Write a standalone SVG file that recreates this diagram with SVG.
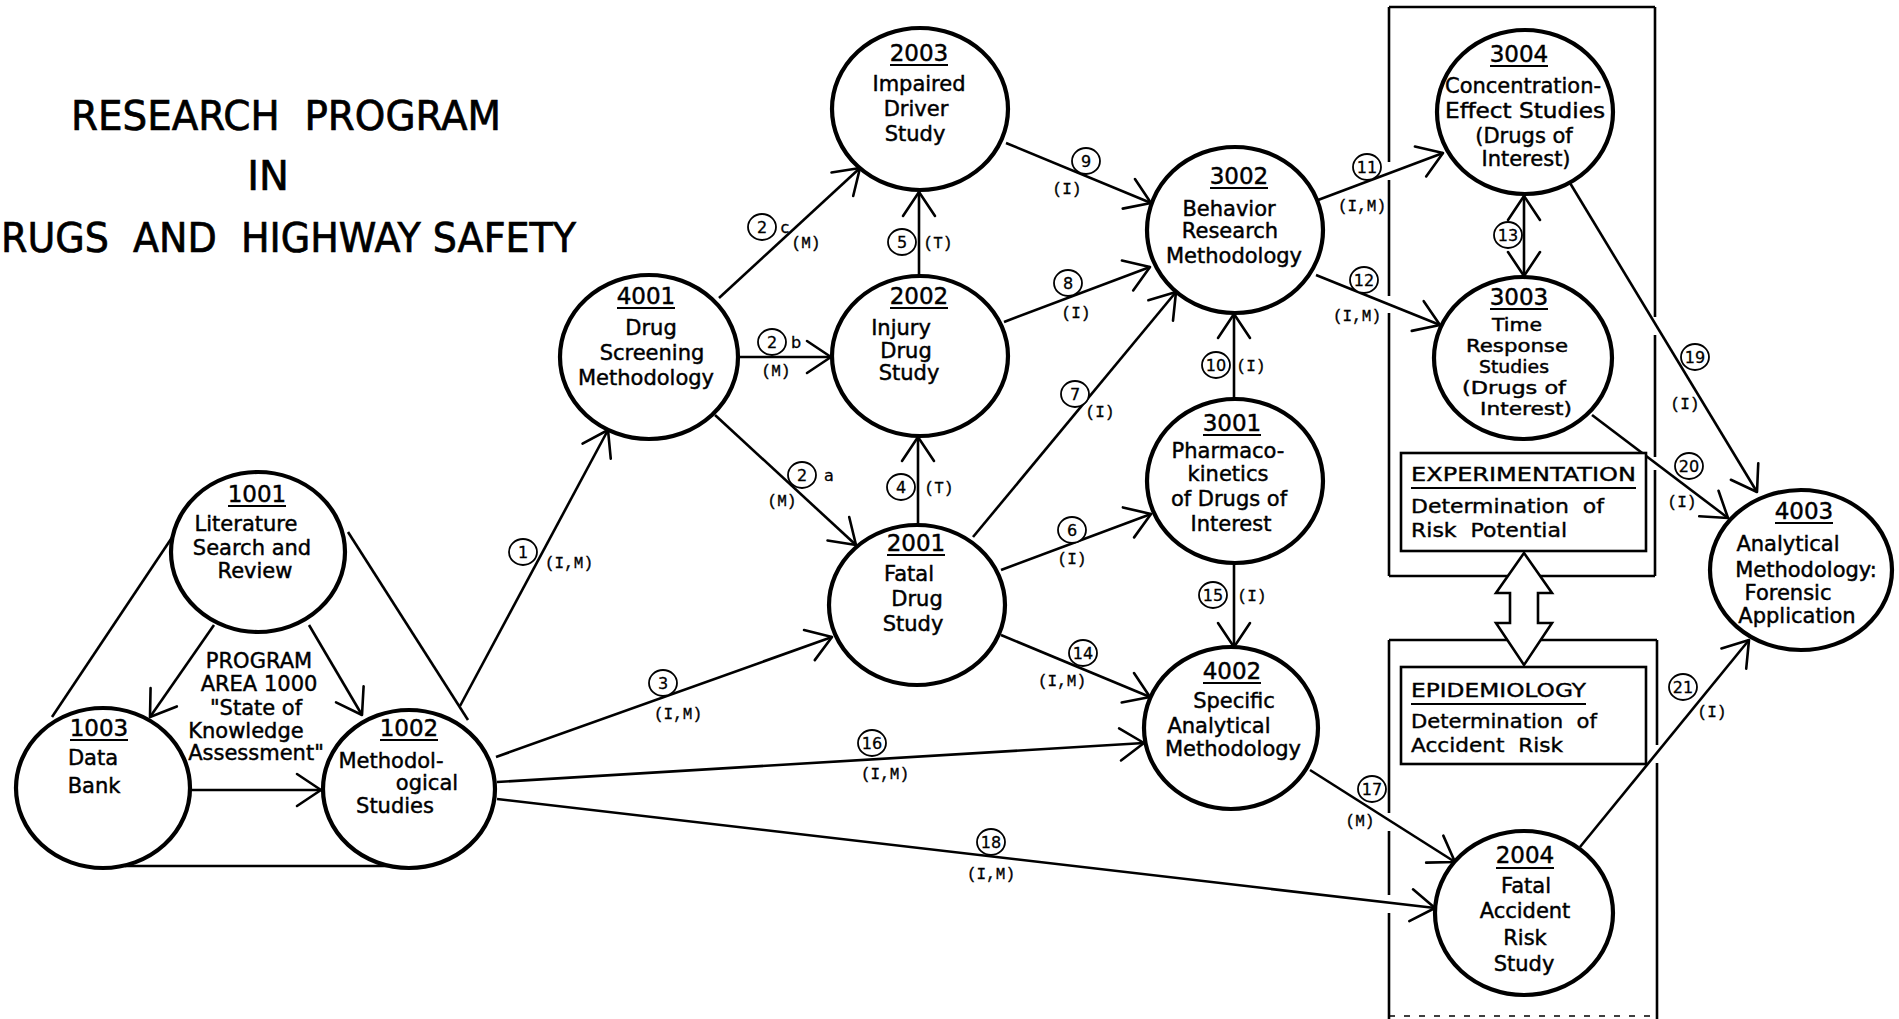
<svg xmlns="http://www.w3.org/2000/svg" width="1899" height="1019" viewBox="0 0 1899 1019">
<defs>
<marker id="ah" viewBox="-30 -22 34 44" refX="0" refY="0" markerWidth="34" markerHeight="44" markerUnits="userSpaceOnUse" orient="auto-start-reverse" overflow="visible">
<path d="M-24,-16 L0,0 L-24,16" fill="none" stroke="#000" stroke-width="2.6" stroke-linejoin="round" stroke-linecap="round"/>
</marker>
</defs>
<style>
.bg{fill:#fff}
.node ellipse{fill:#fff;stroke:#000;stroke-width:4.2}
.t{font-family:"DejaVu Sans","Liberation Sans",sans-serif;font-size:21px;text-anchor:middle;fill:#000;stroke:#000;stroke-width:0.45}
.num{font-size:23px}
.sm{font-size:18px}
.ul{stroke:#000;stroke-width:2.2}
.title{font-family:"DejaVu Sans","Liberation Sans",sans-serif;font-size:40px;fill:#000;stroke:#000;stroke-width:0.7;white-space:pre}
.conn line,.conn path{stroke:#000;stroke-width:2.6;fill:none}
.arr{marker-end:url(#ah)}
.arr2{marker-start:url(#ah);marker-end:url(#ah)}
.lab ellipse{fill:#fff;stroke:#000;stroke-width:1.8}
.ln{font-family:"DejaVu Sans","Liberation Sans",sans-serif;font-size:16px;text-anchor:middle;fill:#000;stroke:#000;stroke-width:0.3}
.lm{font-family:"Liberation Mono","DejaVu Sans Mono",monospace;font-size:16px;text-anchor:middle;fill:#000;stroke:#000;stroke-width:0.35}
.frame{stroke:#000;stroke-width:2.6;fill:none}
.box{fill:#fff;stroke:#000;stroke-width:2.6}
.bt{font-family:"DejaVu Sans","Liberation Sans",sans-serif;font-size:20px;fill:#000;stroke:#000;stroke-width:0.4;white-space:pre}
</style>
<rect class="bg" x="0" y="0" width="1899" height="1019"/>

<g id="title">
<text class="title" x="286" y="130" text-anchor="middle" textLength="430" lengthAdjust="spacingAndGlyphs">RESEARCH  PROGRAM</text>
<text class="title" x="268" y="190" text-anchor="middle">IN</text>
<text class="title" x="1" y="252" textLength="575" lengthAdjust="spacingAndGlyphs">RUGS  AND  HIGHWAY SAFETY</text>
</g>

<g id="frames">
<path class="frame" d="M1389,7 H1655 M1655,7 V317 M1655,335 V457 M1655,470 V576 M1389,576 H1655 M1389,7 V162 M1389,180 V296 M1389,313 V576"/>
<path class="frame" d="M1389,640 H1657 M1389,640 V813 M1389,831 V895 M1389,913 V1019 M1657,640 V745 M1657,763 V1019"/>
<path d="M1389,1016 H1657" stroke="#000" stroke-width="1.5" stroke-dasharray="6 9" fill="none"/>
</g>

<g id="connectors" class="conn">
<line x1="175" y1="533" x2="52" y2="717"/>
<line x1="348" y1="532" x2="468" y2="720"/>
<line x1="125" y1="866" x2="396" y2="866"/>
<line class="arr" x1="214" y1="625" x2="150" y2="717"/>
<line class="arr" x1="309" y1="625" x2="362" y2="715"/>
<line class="arr" x1="191" y1="790" x2="321" y2="790"/>
<line class="arr" x1="460" y1="706" x2="608" y2="430"/>
<line class="arr" x1="715" y1="415" x2="856" y2="545"/>
<line class="arr" x1="740" y1="357" x2="831" y2="357"/>
<line class="arr" x1="719" y1="298" x2="860" y2="168"/>
<line class="arr" x1="496" y1="757" x2="832" y2="637"/>
<line class="arr" x1="918" y1="525" x2="918" y2="437"/>
<line class="arr" x1="919" y1="276" x2="919" y2="192"/>
<line class="arr" x1="1001" y1="570" x2="1151" y2="514"/>
<line class="arr" x1="973" y1="537" x2="1176" y2="292"/>
<line class="arr" x1="1004" y1="322" x2="1150" y2="267"/>
<line class="arr" x1="1006" y1="143" x2="1151" y2="203"/>
<line class="arr" x1="1234" y1="398" x2="1234" y2="314"/>
<line class="arr" x1="1318" y1="200" x2="1443" y2="153"/>
<line class="arr" x1="1316" y1="275" x2="1440" y2="325"/>
<line class="arr2" x1="1524" y1="196" x2="1524" y2="276"/>
<line class="arr" x1="1001" y1="635" x2="1150" y2="697"/>
<line class="arr" x1="1234" y1="564" x2="1234" y2="647"/>
<line class="arr" x1="497" y1="782" x2="1144" y2="743"/>
<line class="arr" x1="1310" y1="770" x2="1455" y2="862"/>
<line class="arr" x1="497" y1="799" x2="1435" y2="908"/>
<line class="arr" x1="1570" y1="183" x2="1757" y2="492"/>
<line class="arr" x1="1592" y1="415" x2="1728" y2="518"/>
<line class="arr" x1="1580" y1="847" x2="1749" y2="640"/>
</g>

<g id="labels" class="lab">
<ellipse cx="523" cy="552" rx="14" ry="13"/><text class="ln" x="523" y="558">1</text><text class="lm" x="569" y="568">(I,M)</text>
<ellipse cx="802" cy="475" rx="14" ry="13"/><text class="ln" x="802" y="481">2</text><text class="ln" x="829" y="481">a</text><text class="lm" x="782" y="506">(M)</text>
<ellipse cx="772" cy="342" rx="14" ry="13"/><text class="ln" x="772" y="348">2</text><text class="ln" x="796" y="348">b</text><text class="lm" x="776" y="376">(M)</text>
<ellipse cx="762" cy="227" rx="14" ry="13"/><text class="ln" x="762" y="233">2</text><text class="ln" x="785" y="233">c</text><text class="lm" x="806" y="248">(M)</text>
<ellipse cx="663" cy="683" rx="14" ry="13"/><text class="ln" x="663" y="689">3</text><text class="lm" x="678" y="719">(I,M)</text>
<ellipse cx="901" cy="487" rx="14" ry="13"/><text class="ln" x="901" y="493">4</text><text class="lm" x="939" y="493">(T)</text>
<ellipse cx="902" cy="242" rx="14" ry="13"/><text class="ln" x="902" y="248">5</text><text class="lm" x="938" y="248">(T)</text>
<ellipse cx="1072" cy="530" rx="14" ry="13"/><text class="ln" x="1072" y="536">6</text><text class="lm" x="1072" y="564">(I)</text>
<ellipse cx="1075" cy="394" rx="14" ry="13"/><text class="ln" x="1075" y="400">7</text><text class="lm" x="1100" y="417">(I)</text>
<ellipse cx="1068" cy="283" rx="14" ry="13"/><text class="ln" x="1068" y="289">8</text><text class="lm" x="1076" y="318">(I)</text>
<ellipse cx="1086" cy="161" rx="14" ry="13"/><text class="ln" x="1086" y="167">9</text><text class="lm" x="1067" y="194">(I)</text>
<ellipse cx="1216" cy="365" rx="14" ry="13"/><text class="ln" x="1216" y="371">10</text><text class="lm" x="1251" y="371">(I)</text>
<ellipse cx="1367" cy="167" rx="14" ry="13"/><text class="ln" x="1367" y="173">11</text><text class="lm" x="1362" y="211">(I,M)</text>
<ellipse cx="1364" cy="280" rx="14" ry="13"/><text class="ln" x="1364" y="286">12</text><text class="lm" x="1357" y="321">(I,M)</text>
<ellipse cx="1508" cy="235" rx="14" ry="13"/><text class="ln" x="1508" y="241">13</text>
<ellipse cx="1083" cy="653" rx="14" ry="13"/><text class="ln" x="1083" y="659">14</text><text class="lm" x="1062" y="686">(I,M)</text>
<ellipse cx="1213" cy="595" rx="14" ry="13"/><text class="ln" x="1213" y="601">15</text><text class="lm" x="1252" y="601">(I)</text>
<ellipse cx="872" cy="743" rx="14" ry="13"/><text class="ln" x="872" y="749">16</text><text class="lm" x="885" y="779">(I,M)</text>
<ellipse cx="1372" cy="789" rx="14" ry="13"/><text class="ln" x="1372" y="795">17</text><text class="lm" x="1360" y="826">(M)</text>
<ellipse cx="991" cy="842" rx="14" ry="13"/><text class="ln" x="991" y="848">18</text><text class="lm" x="991" y="879">(I,M)</text>
<ellipse cx="1695" cy="357" rx="14" ry="13"/><text class="ln" x="1695" y="363">19</text><text class="lm" x="1685" y="409">(I)</text>
<ellipse cx="1689" cy="466" rx="14" ry="13"/><text class="ln" x="1689" y="472">20</text><text class="lm" x="1682" y="507">(I)</text>
<ellipse cx="1683" cy="687" rx="14" ry="13"/><text class="ln" x="1683" y="693">21</text><text class="lm" x="1712" y="717">(I)</text>
</g>

<g id="area1000">
<text class="t" x="259" y="668">PROGRAM</text>
<text class="t" x="259" y="691">AREA 1000</text>
<text class="t" x="256" y="715">&quot;State of</text>
<text class="t" x="246" y="738">Knowledge</text>
<text class="t" x="256" y="760">Assessment&quot;</text>
</g>

<g id="n1001" class="node"><ellipse cx="258" cy="552" rx="87" ry="80"/>
<text class="t num" x="257" y="502">1001</text><line class="ul" x1="228" y1="506" x2="286" y2="506"/>
<text class="t" x="246" y="531">Literature</text><text class="t" x="252" y="555">Search and</text><text class="t" x="255" y="578">Review</text></g>

<g id="n1003" class="node"><ellipse cx="103" cy="788" rx="87" ry="80"/>
<text class="t num" x="99" y="736">1003</text><line class="ul" x1="70" y1="740" x2="128" y2="740"/>
<text class="t" x="93" y="765">Data</text><text class="t" x="94" y="793">Bank</text></g>

<g id="n1002" class="node"><ellipse cx="409" cy="789" rx="86" ry="79"/>
<text class="t num" x="409" y="736">1002</text><line class="ul" x1="380" y1="740" x2="438" y2="740"/>
<text class="t" x="391" y="768">Methodol-</text><text class="t" x="427" y="790">ogical</text><text class="t" x="395" y="813">Studies</text></g>

<g id="n4001" class="node"><ellipse cx="649" cy="357" rx="89" ry="82"/>
<text class="t num" x="646" y="304">4001</text><line class="ul" x1="617" y1="308" x2="675" y2="308"/>
<text class="t" x="651" y="335">Drug</text><text class="t" x="652" y="360">Screening</text><text class="t" x="646" y="385">Methodology</text></g>

<g id="n2003" class="node"><ellipse cx="920" cy="109" rx="88" ry="81"/>
<text class="t num" x="919" y="61">2003</text><line class="ul" x1="890" y1="65" x2="948" y2="65"/>
<text class="t" x="919" y="91">Impaired</text><text class="t" x="916" y="116">Driver</text><text class="t" x="915" y="141">Study</text></g>

<g id="n2002" class="node"><ellipse cx="920" cy="356" rx="88" ry="80"/>
<text class="t num" x="919" y="304">2002</text><line class="ul" x1="890" y1="308" x2="948" y2="308"/>
<text class="t" x="901" y="335">Injury</text><text class="t" x="906" y="358">Drug</text><text class="t" x="909" y="380">Study</text></g>

<g id="n2001" class="node"><ellipse cx="917" cy="605" rx="88" ry="80"/>
<text class="t num" x="916" y="551">2001</text><line class="ul" x1="887" y1="555" x2="945" y2="555"/>
<text class="t" x="909" y="581">Fatal</text><text class="t" x="917" y="606">Drug</text><text class="t" x="913" y="631">Study</text></g>

<g id="n3002" class="node"><ellipse cx="1235" cy="230" rx="88" ry="83"/>
<text class="t num" x="1239" y="184">3002</text><line class="ul" x1="1210" y1="188" x2="1268" y2="188"/>
<text class="t" x="1229" y="216">Behavior</text><text class="t" x="1230" y="238">Research</text><text class="t" x="1234" y="263">Methodology</text></g>

<g id="n3004" class="node"><ellipse cx="1525" cy="112" rx="88" ry="82"/>
<text class="t num" x="1519" y="62">3004</text><line class="ul" x1="1490" y1="66" x2="1548" y2="66"/>
<text class="t" x="1523" y="93" textLength="156" lengthAdjust="spacingAndGlyphs">Concentration-</text>
<text class="t" x="1525" y="118" textLength="160" lengthAdjust="spacingAndGlyphs">Effect Studies</text>
<text class="t" x="1524" y="143">(Drugs of</text><text class="t" x="1526" y="166">Interest)</text></g>

<g id="n3003" class="node"><ellipse cx="1523" cy="358" rx="89" ry="81"/>
<text class="t num" x="1519" y="305">3003</text><line class="ul" x1="1490" y1="309" x2="1548" y2="309"/>
<text class="t sm" x="1517" y="331" textLength="50" lengthAdjust="spacingAndGlyphs">Time</text>
<text class="t sm" x="1517" y="352" textLength="102" lengthAdjust="spacingAndGlyphs">Response</text>
<text class="t sm" x="1514" y="373" textLength="70" lengthAdjust="spacingAndGlyphs">Studies</text>
<text class="t sm" x="1514" y="394" textLength="104" lengthAdjust="spacingAndGlyphs">(Drugs of</text>
<text class="t sm" x="1526" y="415" textLength="92" lengthAdjust="spacingAndGlyphs">Interest)</text></g>

<g id="n3001" class="node"><ellipse cx="1235" cy="481" rx="88" ry="82"/>
<text class="t num" x="1232" y="431">3001</text><line class="ul" x1="1203" y1="435" x2="1261" y2="435"/>
<text class="t" x="1228" y="458">Pharmaco-</text><text class="t" x="1228" y="481">kinetics</text><text class="t" x="1229" y="506">of Drugs of</text><text class="t" x="1231" y="531">Interest</text></g>

<g id="n4002" class="node"><ellipse cx="1231" cy="728" rx="87" ry="81"/>
<text class="t num" x="1232" y="679">4002</text><line class="ul" x1="1203" y1="683" x2="1261" y2="683"/>
<text class="t" x="1234" y="708">Specific</text><text class="t" x="1219" y="733">Analytical</text><text class="t" x="1233" y="756">Methodology</text></g>

<g id="n2004" class="node"><ellipse cx="1524" cy="913" rx="89" ry="82"/>
<text class="t num" x="1525" y="863">2004</text><line class="ul" x1="1496" y1="868" x2="1554" y2="868"/>
<text class="t" x="1526" y="893">Fatal</text><text class="t" x="1525" y="918">Accident</text><text class="t" x="1525" y="945">Risk</text><text class="t" x="1524" y="971">Study</text></g>

<g id="n4003" class="node"><ellipse cx="1801" cy="570" rx="91" ry="80"/>
<text class="t num" x="1804" y="519">4003</text><line class="ul" x1="1775" y1="523" x2="1833" y2="523"/>
<text class="t" x="1788" y="551">Analytical</text><text class="t" x="1806" y="577">Methodology:</text><text class="t" x="1788" y="600">Forensic</text><text class="t" x="1797" y="623">Application</text></g>

<g id="experimentation">
<rect class="box" x="1401" y="453" width="245" height="98"/>
<text class="bt" x="1411" y="481" textLength="225" lengthAdjust="spacingAndGlyphs">EXPERIMENTATION</text>
<line class="ul" x1="1411" y1="488" x2="1636" y2="488"/>
<text class="bt" x="1411" y="513" textLength="193" lengthAdjust="spacingAndGlyphs">Determination  of</text>
<text class="bt" x="1411" y="537" textLength="156" lengthAdjust="spacingAndGlyphs">Risk  Potential</text>
</g>

<g id="epidemiology">
<rect class="box" x="1401" y="667" width="245" height="97"/>
<text class="bt" x="1411" y="697" textLength="175" lengthAdjust="spacingAndGlyphs">EPIDEMIOLOGY</text>
<line class="ul" x1="1411" y1="704" x2="1586" y2="704"/>
<text class="bt" x="1411" y="728" textLength="186" lengthAdjust="spacingAndGlyphs">Determination  of</text>
<text class="bt" x="1411" y="752" textLength="152" lengthAdjust="spacingAndGlyphs">Accident  Risk</text>
</g>

<g id="double-arrow">
<polygon points="1524,553 1552,593 1538,593 1538,623 1552,623 1524,665 1496,623 1510,623 1510,593 1496,593" fill="#fff" stroke="#000" stroke-width="2.6" stroke-linejoin="miter"/>
</g>
</svg>
